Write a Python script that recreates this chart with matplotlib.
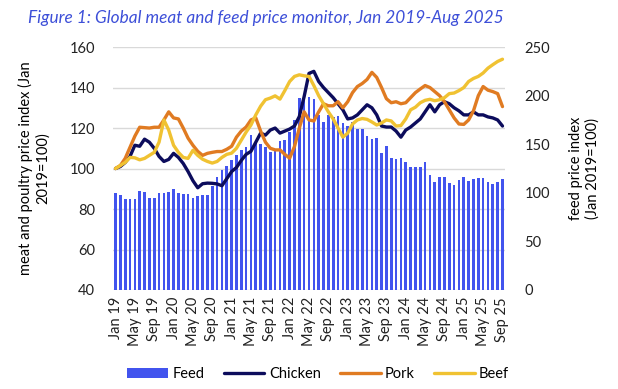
import matplotlib
matplotlib.use('Agg')
import matplotlib.pyplot as plt
import numpy as np

plt.rcParams['font.family'] = ['Lato', 'DejaVu Sans']

# monthly, Jan 2019 .. Sep 2025
months = ['Jan', 'Feb', 'Mar', 'Apr', 'May', 'Jun', 'Jul', 'Aug', 'Sep', 'Oct', 'Nov', 'Dec']
labels = ['%s %02d' % (months[i % 12], 19 + i // 12) for i in range(81)]

feed = [100, 98, 93.5, 93.5, 93.5, 102, 101, 95, 95, 100, 100, 100.5, 104, 100, 99, 99,
        94.5, 97, 97.5, 97.5, 107, 116.7, 123.6, 127.7, 134, 139, 144, 147, 159.6, 151,
        150, 147.6, 142.4, 144, 153.8, 154.5, 163, 175, 198, 201.5, 199, 197, 180, 173,
        180, 178.5, 179, 171.6, 169, 173, 165.5, 165.5, 158, 155, 156, 141, 148, 135.6,
        135, 135.6, 132, 127, 127, 127, 132, 118.4, 111.5, 116, 116.7, 110.5, 108, 113,
        116.7, 112, 114, 115.7, 115.7, 111.5, 109, 111.5, 114]

chicken = [100, 101, 103, 106, 111.5, 111, 114.5, 113, 110, 106, 103.5, 104.5, 107.5,
           105.5, 102.5, 98.5, 94, 90.5, 92.5, 92.8, 92.7, 92.4, 91.5, 95, 98.5, 100.5,
           104, 107, 108.5, 113, 117.5, 116.5, 119, 120, 117.5, 118.5, 119.5, 121, 125.7,
           135.6, 147, 148, 143, 140, 137.5, 135, 132, 129, 124.5, 125, 126.5, 129, 131.5,
           130, 126.5, 121, 120.5, 120.5, 118.5, 115.5, 119, 120.5, 122.5, 124.5, 128,
           131.5, 128, 131.5, 133, 132, 130, 128.5, 126.5, 126.5, 128, 126.5, 126.5, 125.5,
           125, 124, 121]

pork = [100, 101.5, 105, 110.5, 116, 120.4, 120.2, 120, 120.4, 120.4, 124, 128, 125,
        124.5, 120, 115, 111.5, 108.5, 106.5, 107.5, 108, 108.4, 108.4, 109.5, 111, 115.5,
        118.5, 120.5, 124, 125, 118.5, 113, 110, 109.2, 109.2, 107, 105.1, 110.9, 120, 128,
        124, 123.5, 128, 132, 131, 131, 133, 130, 133, 137.5, 140.5, 142, 144, 147.5, 145,
        140, 134.5, 132.5, 133, 132, 132.5, 135, 137.5, 139.3, 141, 140, 138, 136, 133,
        129, 125, 122, 121.8, 124, 128.5, 136, 140.5, 138.7, 138, 137, 130.6]

beef = [100, 101.5, 103, 105.5, 105.3, 104.3, 105, 106.5, 108, 113, 124, 119, 111.5, 108,
        105.5, 105, 109, 106.5, 104.6, 103.5, 102.7, 103.5, 105.5, 107, 107.6, 110, 114,
        118, 121.5, 126.5, 130.8, 134, 134.8, 135.9, 134.3, 138.5, 143, 145.5, 146.3,
        145.8, 145.5, 141, 136, 132, 128, 124.5, 120, 115.5, 117.5, 122, 124, 124.7, 124.3,
        123, 121.5, 122.5, 124, 123.5, 121, 121.2, 124.5, 129, 130.3, 132.5, 133.7, 134.2,
        133.5, 134, 135, 137, 137.3, 138.5, 140, 143, 144.5, 145.5, 147.2, 149.6, 151.3,
        152.9, 154]

left_ticks = [40, 60, 80, 100, 120, 140, 160]
right_ticks = [0, 50, 100, 150, 200, 250]

x = np.arange(len(labels))

fig = plt.figure(figsize=(6.18, 3.89), dpi=100)
ax2 = fig.add_axes([0.183, 0.2545, 0.634, 0.6245])   # feed, right scale
ax = ax2.twinx()
ax.yaxis.tick_left()
ax.yaxis.set_label_position('left')
ax2.yaxis.tick_right()
ax2.yaxis.set_label_position('right')

# grid follows the left scale, drawn behind the bars
for v in left_ticks:
    ax2.axhline((v - 40) * 250 / 120, color='#d9d9d9', lw=1.0, zorder=0)

ax2.bar(x, feed, width=0.55, color='#4254ee', zorder=2, label='Feed')
ax.plot(x, chicken, color='#0c0c5c', lw=2.4, label='Chicken', solid_capstyle='round')
ax.plot(x, pork, color='#e07b22', lw=2.4, label='Pork', solid_capstyle='round')
ax.plot(x, beef, color='#f0c232', lw=2.4, label='Beef', solid_capstyle='round')

ax.set_xlim(-0.5, 80.5)
ax.set_ylim(40, 160)
ax2.set_ylim(0, 250)
ax.set_yticks(left_ticks)
ax2.set_yticks(right_ticks)
ax2.set_xticks(x[::4])
ax2.set_xticklabels(labels[::4], rotation=90)

for a in (ax, ax2):
    for s in a.spines.values():
        s.set_visible(False)
    a.tick_params(length=0, labelsize=10.5, colors='#222222')
ax.tick_params(axis='y', pad=13)
ax2.tick_params(axis='y', pad=14)
ax2.tick_params(axis='x', pad=5)

ax.set_ylabel('meat and poultry price index (Jan\n2019=100)', fontsize=10.5, labelpad=14)
ax2.set_ylabel('feed price index\n(Jan 2019=100)', fontsize=10.5, labelpad=14)

fig.text(0.045, 0.955, 'Figure 1: Global meat and feed price monitor, Jan 2019-Aug 2025',
         color='#3d4fd8', style='italic', fontsize=12.4, va='center', ha='left')

h2, l2 = ax2.get_legend_handles_labels()
h1, l1 = ax.get_legend_handles_labels()
fig.legend(h2 + h1, l2 + l1, loc='center', bbox_to_anchor=(0.515, 0.038), ncol=4,
           frameon=False, fontsize=10.5, handlelength=2.8, handletextpad=0.3,
           columnspacing=1.3)

fig.savefig('out.png', dpi=100)
